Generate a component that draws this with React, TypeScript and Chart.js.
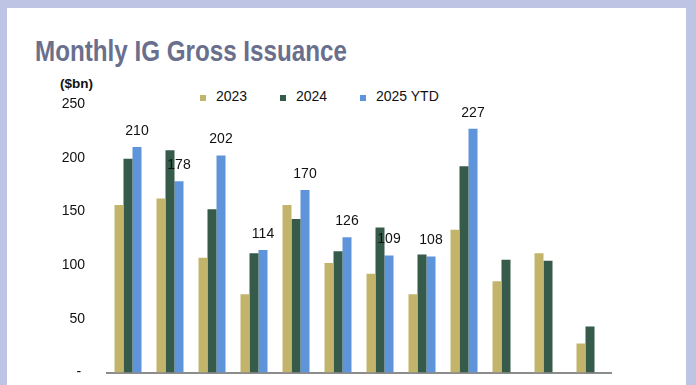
import React, { useEffect, useRef } from "react";
import { Chart, registerables } from "chart.js";

Chart.register(...registerables);

const categories = ["Jan", "Feb", "Mar", "Apr", "May", "Jun", "Jul", "Aug", "Sep", "Oct", "Nov", "Dec"];
const series2023 = [156, 162, 107, 73, 156, 102, 92, 73, 133, 85, 111, 27];
const series2024 = [199, 207, 152, 111, 143, 113, 135, 110, 192, 105, 104, 43];
const series2025 = [210, 178, 202, 114, 170, 126, 109, 108, 227, null, null, null];
const seriesNames = ["2023", "2024", "2025 YTD"];
const seriesColors = ["#c3b46b", "#365b4a", "#5e94da"];
const yTicks = [0, 50, 100, 150, 200, 250];

const FONT = "'Liberation Sans', Arial, sans-serif";

const labelPlugin = {
  id: "ytdLabels",
  afterDatasetsDraw(chart: any) {
    const ctx = chart.ctx;
    const meta = chart.getDatasetMeta(2);
    ctx.save();
    ctx.font = `14px ${FONT}`;
    ctx.fillStyle = "#111111";
    ctx.textAlign = "center";
    ctx.textBaseline = "middle";
    meta.data.forEach((el: any, i: number) => {
      const v = series2025[i];
      if (v == null) return;
      ctx.fillText(String(v), el.x, el.y - 16);
    });
    ctx.restore();
  },
};

function ChartCanvas() {
  const ref = useRef<HTMLCanvasElement | null>(null);
  useEffect(() => {
    if (!ref.current) return;
    const chart = new Chart(ref.current, {
      type: "bar",
      data: {
        labels: categories,
        datasets: [series2023, series2024, series2025].map((d, i) => ({
          label: seriesNames[i],
          data: d,
          backgroundColor: seriesColors[i],
          borderWidth: 0,
          categoryPercentage: 0.643,
          barPercentage: 1,
        })),
      },
      options: {
        responsive: false,
        maintainAspectRatio: false,
        animation: false,
        layout: { padding: { left: 37, right: 85, top: 104, bottom: 13 } },
        plugins: {
          legend: { display: false },
          title: { display: false },
          tooltip: { enabled: false },
        },
        scales: {
          x: {
            afterFit: (scale: any) => {
              scale.height = 0;
            },
            grid: { display: false, drawTicks: false },
            ticks: { display: false },
            border: { display: true, color: "#8c8c8c", width: 2 },
          },
          y: {
            min: 0,
            max: 250,
            afterFit: (scale: any) => {
              scale.width = 70;
            },
            afterBuildTicks: (scale: any) => {
              scale.ticks = yTicks.map((v) => ({ value: v }));
            },
            grid: { display: false, drawTicks: false },
            border: { display: false },
            ticks: {
              padding: 22,
              color: "#111111",
              font: { family: FONT, size: 14 },
              callback: (v: any) => (Number(v) === 0 ? "- " : String(v)),
            },
          },
        },
      },
      plugins: [labelPlugin],
    });
    return () => chart.destroy();
  }, []);
  return (
    <canvas
      ref={ref}
      width={696}
      height={403}
      style={{ position: "absolute", left: 0, top: 0, width: 696, height: 403 }}
    />
  );
}

export default function App() {
  const legendPos = [200, 280, 360];
  return (
    <div style={{ position: "relative", width: 696, height: 385, background: "#bec5e4", overflow: "hidden" }}>
      <style>{`body{margin:0}`}</style>
      <div style={{ position: "absolute", left: 7, top: 8, width: 679, height: 400, background: "#ffffff" }} />
      <div
        style={{
          position: "absolute",
          left: 35,
          top: 34,
          fontFamily: FONT,
          fontWeight: "bold",
          fontSize: 29.5,
          lineHeight: "normal",
          color: "#6a6f8e",
          whiteSpace: "nowrap",
          transform: "scaleX(0.82)",
          transformOrigin: "0 0",
        }}
      >
        Monthly IG Gross Issuance
      </div>
      <div
        style={{
          position: "absolute",
          left: 60,
          top: 76,
          fontFamily: FONT,
          fontWeight: "bold",
          fontSize: 13.5,
          lineHeight: "normal",
          color: "#111111",
          whiteSpace: "nowrap",
        }}
      >
        ($bn)
      </div>
      {seriesNames.map((name, i) => (
        <div key={name}>
          <div
            style={{
              position: "absolute",
              left: legendPos[i],
              top: 95,
              width: 6,
              height: 6,
              background: seriesColors[i],
            }}
          />
          <div
            style={{
              position: "absolute",
              left: legendPos[i] + 16,
              top: 88,
              fontFamily: FONT,
              fontSize: 14,
              lineHeight: "normal",
              color: "#111111",
              whiteSpace: "nowrap",
            }}
          >
            {name}
          </div>
        </div>
      ))}
      <ChartCanvas />
    </div>
  );
}
